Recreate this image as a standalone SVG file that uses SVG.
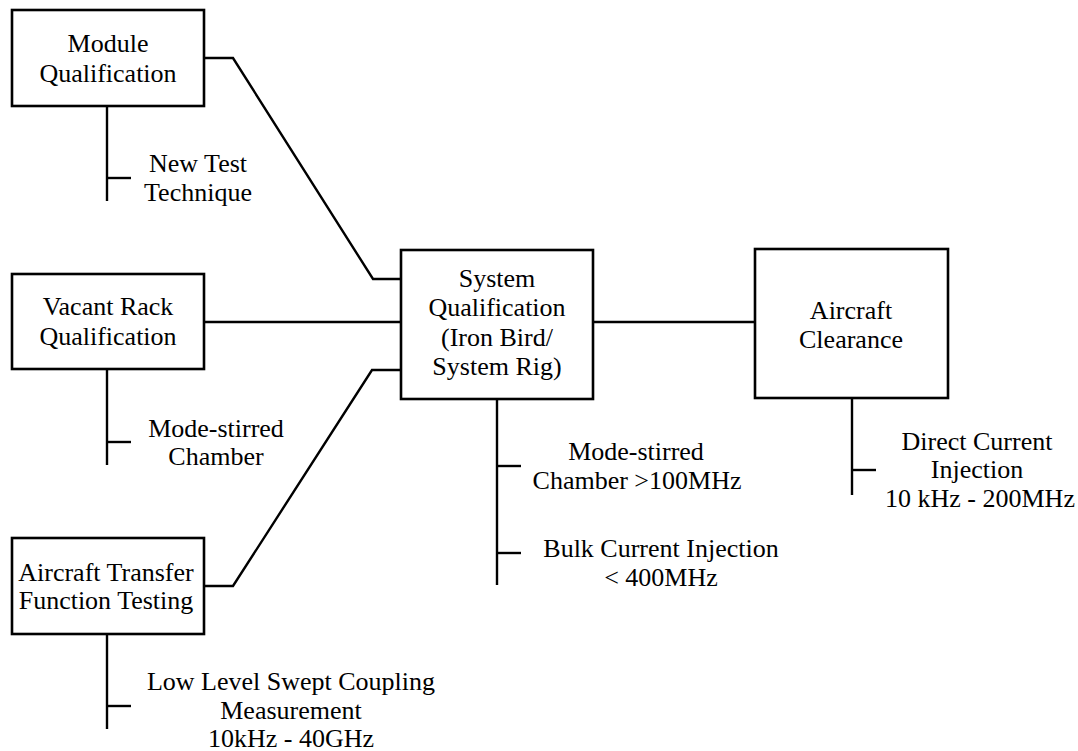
<svg xmlns="http://www.w3.org/2000/svg" width="1078" height="751" viewBox="0 0 1078 751" font-family="'Liberation Serif', 'DejaVu Serif', serif" font-size="26">
<style>
.box{fill:#fff;stroke:#000;stroke-width:2.6}
.ln{fill:none;stroke:#000;stroke-width:2.4;stroke-linejoin:miter}
text{font-family:'Liberation Serif','DejaVu Serif',serif;font-size:26px;fill:#000;text-anchor:middle}
</style>
<rect width="1078" height="751" fill="#fff"/>
<g id="connectors">
<polyline class="ln" points="204,58 233,58 373,279 401,279"/>
<line class="ln" x1="204" y1="322" x2="401" y2="322"/>
<polyline class="ln" points="204,586 233,586 372,370 401,370"/>
<line class="ln" x1="593" y1="322" x2="756" y2="322"/>
<line class="ln" x1="107" y1="106" x2="107" y2="201"/>
<line class="ln" x1="107" y1="178" x2="131" y2="178"/>
<line class="ln" x1="107" y1="369" x2="107" y2="465"/>
<line class="ln" x1="107" y1="442" x2="131" y2="442"/>
<line class="ln" x1="107" y1="634" x2="107" y2="729"/>
<line class="ln" x1="107" y1="706" x2="131" y2="706"/>
<line class="ln" x1="497" y1="399" x2="497" y2="585"/>
<line class="ln" x1="497" y1="466" x2="521" y2="466"/>
<line class="ln" x1="497" y1="553" x2="521" y2="553"/>
<line class="ln" x1="852" y1="398" x2="852" y2="495"/>
<line class="ln" x1="852" y1="470" x2="876" y2="470"/>
</g>
<g id="module">
<rect class="box" x="12" y="10" width="192" height="96"/>
<text x="108" y="52">Module</text>
<text x="108" y="82">Qualification</text>
</g>
<g id="vacant-rack">
<rect class="box" x="12" y="274" width="192" height="95"/>
<text x="108" y="315">Vacant Rack</text>
<text x="108" y="345">Qualification</text>
</g>
<g id="transfer">
<rect class="box" x="12" y="538" width="192" height="96"/>
<text x="106" y="581">Aircraft Transfer</text>
<text x="106" y="609">Function Testing</text>
</g>
<g id="system">
<rect class="box" x="401" y="250" width="192" height="149"/>
<text x="497" y="287">System</text>
<text x="497" y="316">Qualification</text>
<text x="497" y="346">(Iron Bird/</text>
<text x="497" y="375">System Rig)</text>
</g>
<g id="clearance">
<rect class="box" x="755" y="249" width="193" height="149"/>
<text x="851" y="319">Aircraft</text>
<text x="851" y="348">Clearance</text>
</g>
<g id="labels">
<text x="198" y="172">New Test</text>
<text x="198" y="201">Technique</text>
<text x="216" y="437">Mode-stirred</text>
<text x="216" y="465">Chamber</text>
<text x="291" y="690">Low Level Swept Coupling</text>
<text x="291" y="719">Measurement</text>
<text x="291" y="747">10kHz - 40GHz</text>
<text x="636" y="460">Mode-stirred</text>
<text x="637" y="489">Chamber &gt;100MHz</text>
<text x="661" y="557">Bulk Current Injection</text>
<text x="661" y="586">&lt; 400MHz</text>
<text x="977" y="450">Direct Current</text>
<text x="977" y="478">Injection</text>
<text x="980" y="507">10 kHz - 200MHz</text>
</g>
</svg>
